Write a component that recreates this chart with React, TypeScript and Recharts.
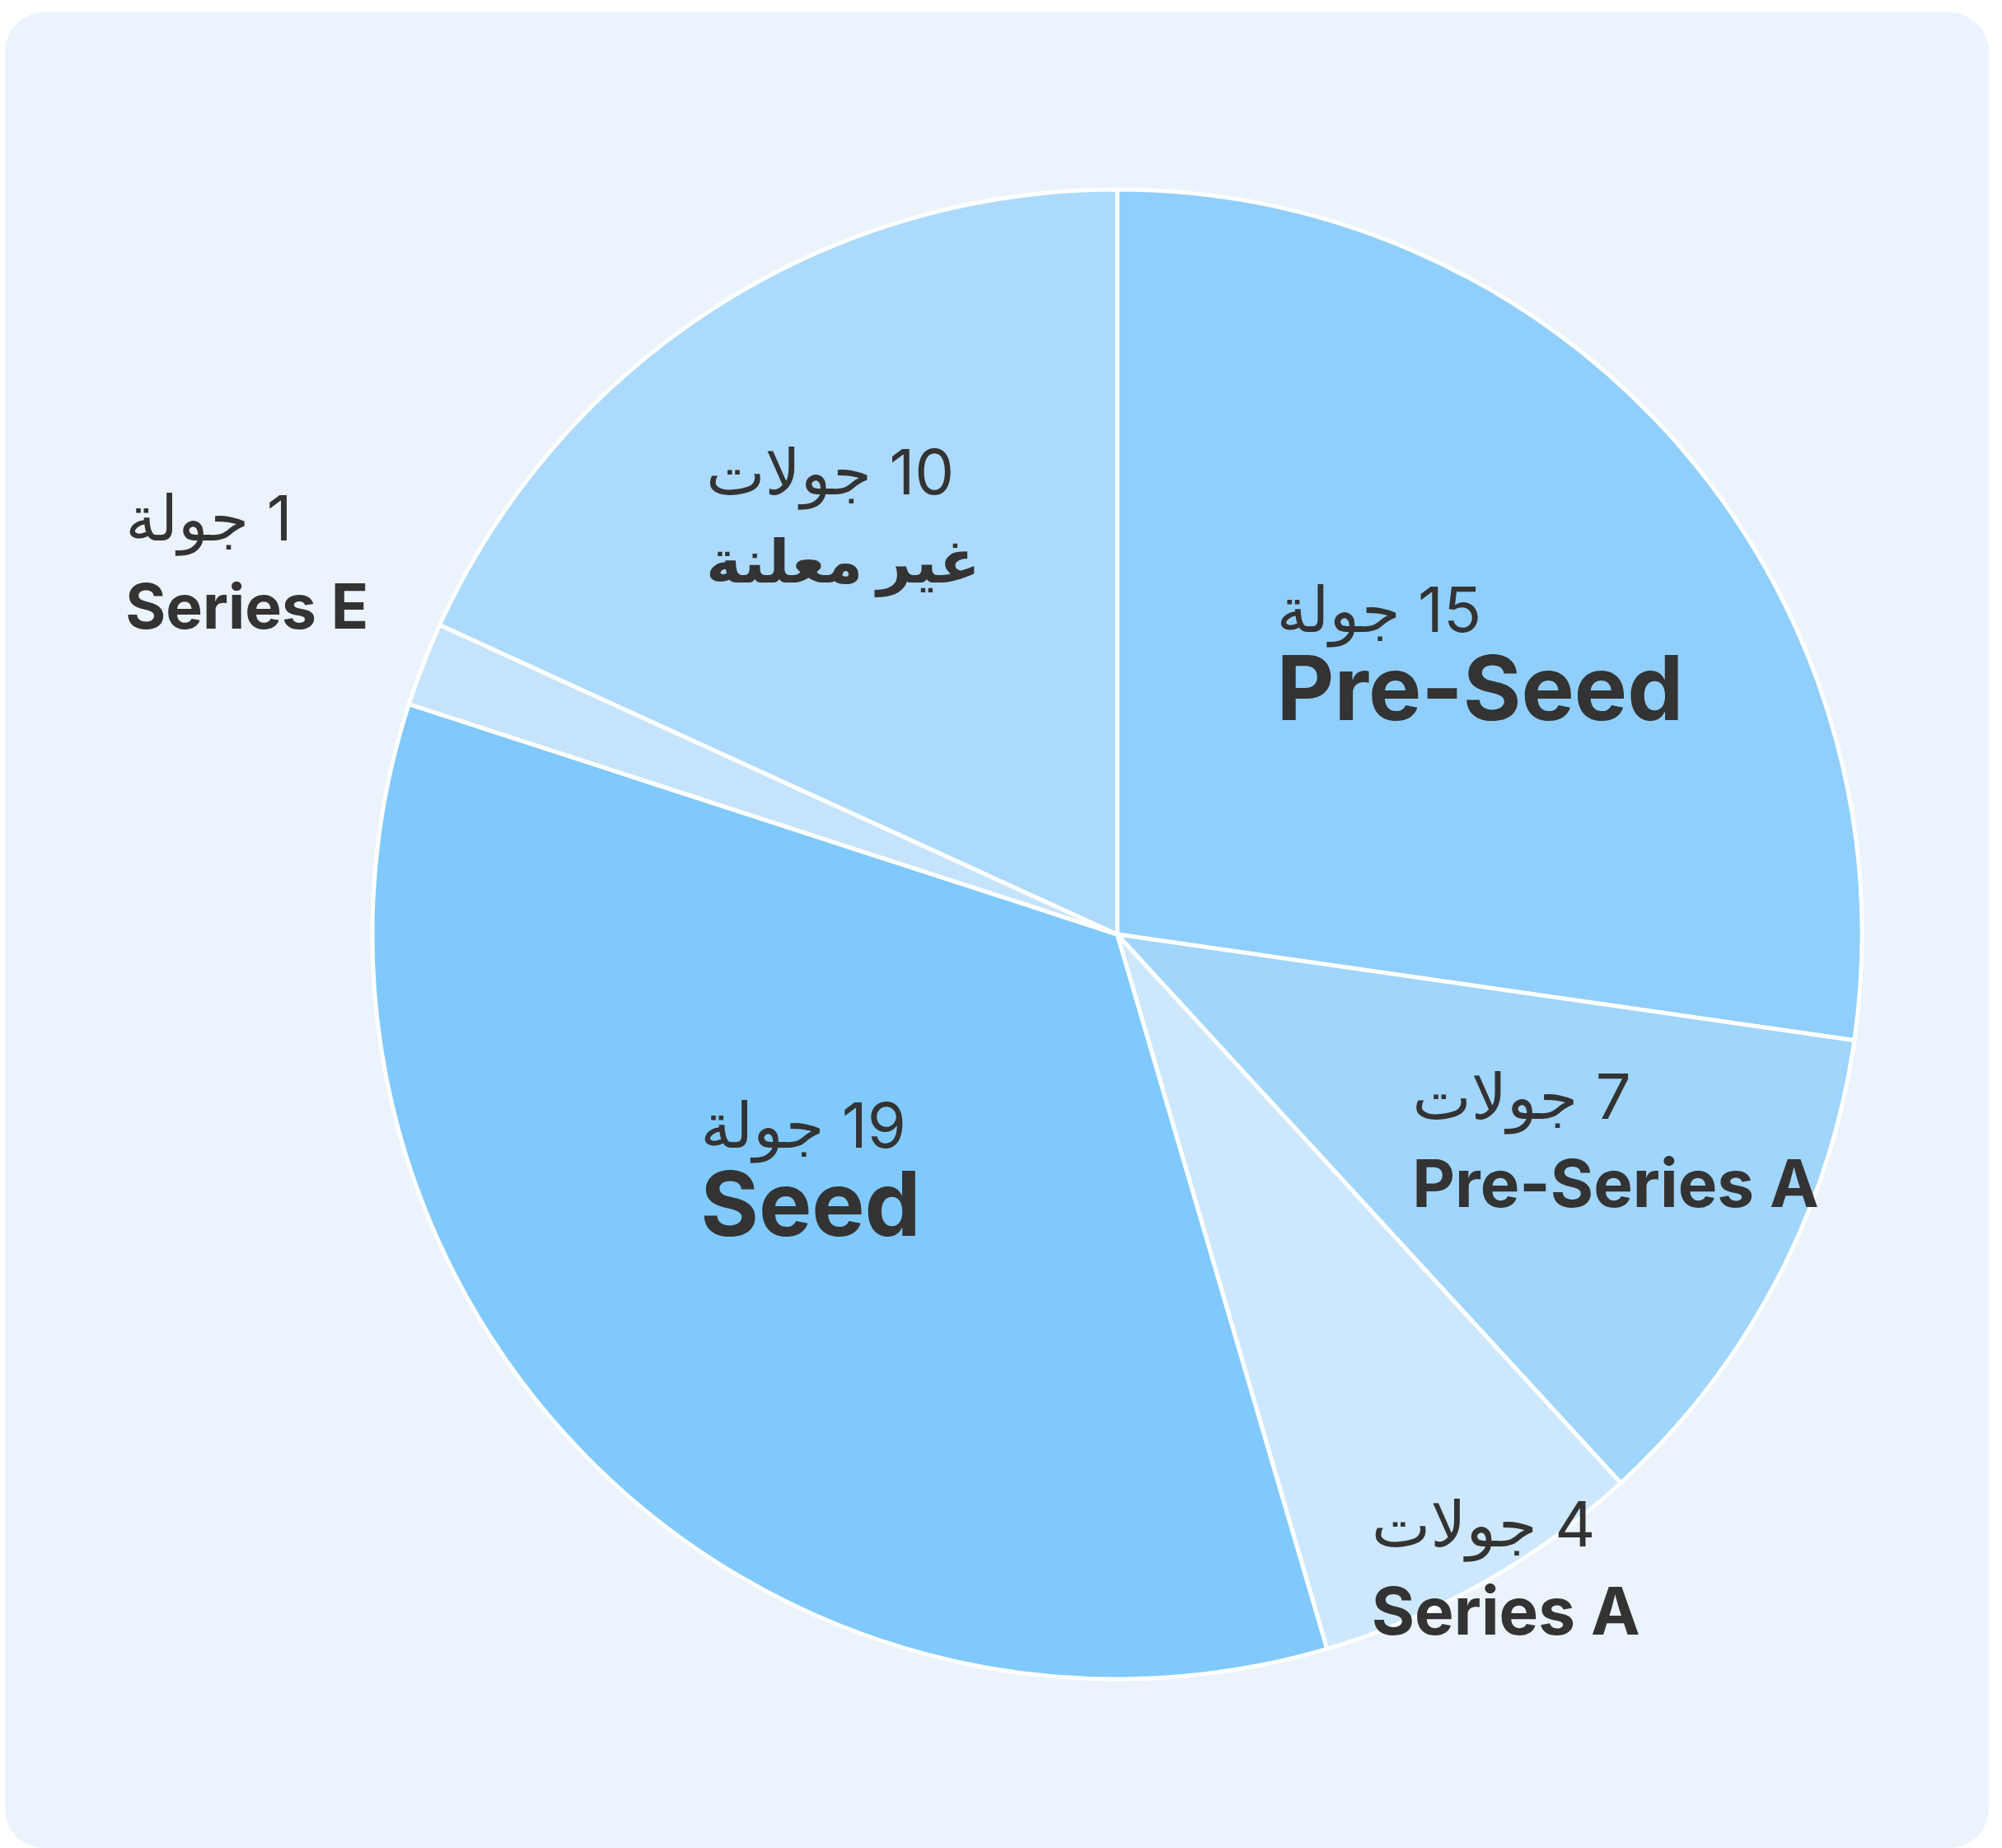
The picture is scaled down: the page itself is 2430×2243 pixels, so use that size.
import React from "react";
import { PieChart, Pie, Cell } from "recharts";

// slices go clockwise from 12 o'clock
const stages = ["Pre-Seed", "Pre-Series A", "Series A", "Seed", "Series E", "غير معلنة"];
const roundCounts = [15, 7, 4, 19, 1, 10];
// slice sizes as drawn in the picture (Pre-Series A slice is drawn at 6)
const sliceValues = [15, 6, 4, 19, 1, 10];
const sliceColors = ["#90CFFC", "#A0D5FC", "#CDE8FD", "#80C9FD", "#C5E4FC", "#ABDAFD"];

// label placement: fraction of radius + clockwise nudge (deg), name font size
const labelRadius = [0.615, 0.725, 1.0, 0.52, 1.27, 0.67];
const labelNudge = [3.3, -5.2, -2, 6.5, 1.8, -0.6];
const labelNameSize = [108, 80, 80, 108, 75, 73];

const FONT = "Inter, 'DejaVu Sans', sans-serif";
const TEXT_COLOR = "#333333";
const COUNT_SIZE = 76;
const RAD = Math.PI / 180;

const pieData = stages.map((name, i) => ({
    name,
    value: sliceValues[i],
    rounds: roundCounts[i],
}));

function roundsText(n: number) {
    const word = n >= 3 && n <= 10 ? "جولات" : "جولة";
    return `${n} ${word}`;
}

let measureCtx: CanvasRenderingContext2D | null = null;
function textWidth(text: string, font: string) {
    if (!measureCtx) measureCtx = document.createElement("canvas").getContext("2d");
    if (!measureCtx) return text.length * 40;
    measureCtx.font = font;
    return measureCtx.measureText(text).width;
}

function renderLabel(props: any) {
    const { cx, cy, midAngle, outerRadius, index, payload } = props;
    const item = payload && payload.rounds !== undefined ? payload : pieData[index];
    const angle = (midAngle - labelNudge[index]) * RAD;
    const d = outerRadius * labelRadius[index];
    const xc = cx + d * Math.cos(angle);
    const yc = cy - d * Math.sin(angle);

    const countStr = roundsText(item.rounds);
    const nSize = labelNameSize[index];
    const wCount = textWidth(countStr, `400 ${COUNT_SIZE}px ${FONT}`);
    const wName = textWidth(item.name, `700 ${nSize}px ${FONT}`);
    const left = xc - Math.max(wCount, wName) / 2;

    return (
        <g key={`lbl-${index}`}>
            <text
                x={left + wCount / 2}
                y={yc - 28}
                textAnchor="middle"
                direction="rtl"
                fill={TEXT_COLOR}
                fontFamily={FONT}
                fontSize={COUNT_SIZE}
                fontWeight={400}
            >
                {countStr}
            </text>
            <text
                x={left + wName / 2}
                y={yc + 79}
                textAnchor="middle"
                fill={TEXT_COLOR}
                fontFamily={FONT}
                fontSize={nSize}
                fontWeight={700}
            >
                {item.name}
            </text>
        </g>
    );
}

export default function App() {
    return (
        <div
            style={{
                position: "absolute",
                left: 6,
                top: 15,
                width: 2408,
                height: 2228,
                background: "#EBF3FD",
                borderRadius: 48,
                overflow: "hidden",
                fontFamily: FONT,
            }}
        >
            <PieChart width={2408} height={2228} margin={{ top: 0, right: 0, bottom: 0, left: 0 }}>
                <Pie
                    data={pieData}
                    dataKey="value"
                    nameKey="name"
                    cx={1350}
                    cy={1119}
                    outerRadius={904}
                    startAngle={90}
                    endAngle={-270}
                    stroke="#FFFFFF"
                    strokeWidth={5}
                    label={renderLabel}
                    labelLine={false}
                    isAnimationActive={false}
                >
                    {pieData.map((entry, i) => (
                        <Cell key={entry.name} fill={sliceColors[i]} />
                    ))}
                </Pie>
            </PieChart>
        </div>
    );
}
